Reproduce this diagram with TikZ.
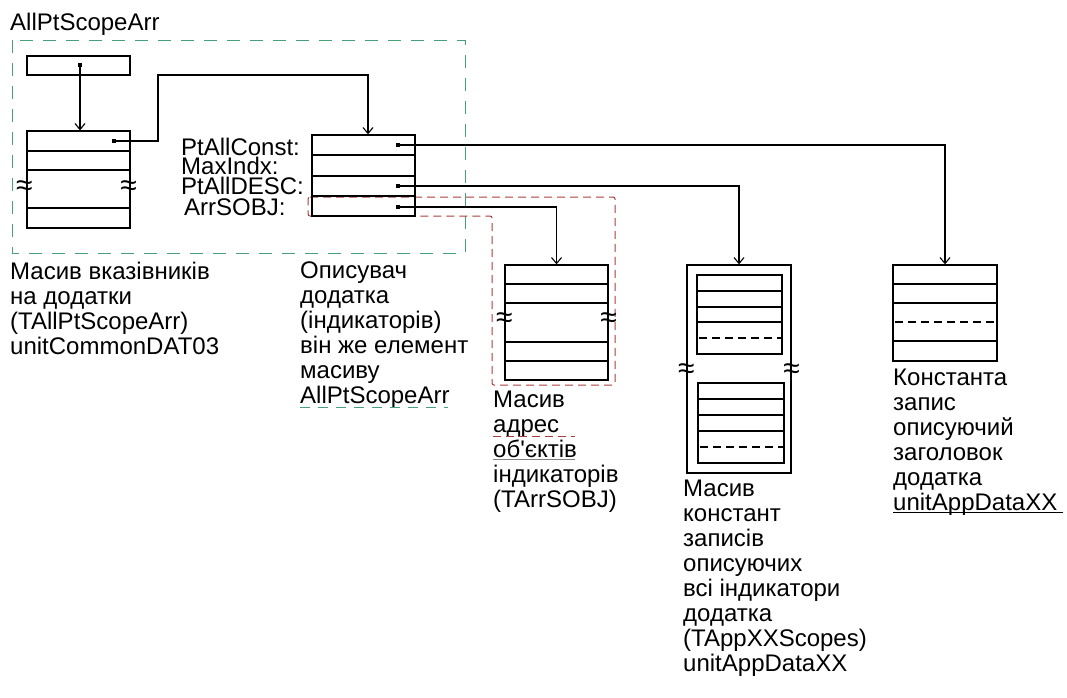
\documentclass[tikz,border=0pt]{standalone}
\usepackage{fontspec}
\setmainfont{Liberation Sans}
\usetikzlibrary{arrows.meta, positioning}
\usepackage{xcolor}
\definecolor{scopegreen}{RGB}{70,160,120}
\definecolor{sobjred}{RGB}{170,60,60}
\tikzstyle{memblock}  = [rectangle, draw, line width=1.3pt, inner sep=0pt, minimum width=103pt]
\tikzstyle{rowline}   = [line width=1.3pt]
\tikzstyle{rowdash}   = [line width=1.3pt, dash pattern=on 8pt off 5pt]
\tikzstyle{ptdot}     = [rectangle, fill, minimum size=4pt, inner sep=0pt]
\tikzstyle{arrow}     = [line width=1.1pt, -{Straight Barb[length=6pt,width=10pt]}]
\tikzstyle{caption}   = [anchor=north west, align=left, inner sep=0pt, font=\fontsize{24}{25}\selectfont]
\tikzstyle{fieldname} = [anchor=base west, inner sep=0pt, text height=17pt, text depth=1pt, font=\fontsize{24}{24}\selectfont]
\tikzstyle{wave}      = [inner sep=0pt, font=\fontsize{30}{30}\selectfont]
\tikzstyle{greendash} = [draw=scopegreen, line width=1pt, dash pattern=on 13pt off 10pt]
\tikzstyle{reddash}   = [draw=sobjred, line width=1pt, dash pattern=on 8pt off 5pt]

\begin{document}
\begin{tikzpicture}[x=1pt, y=-1pt]
\useasboundingbox (0,0) rectangle (1067,697);

% dashed groups
\node (scopetitle) [fieldname] at (10,30) {AllPtScopeArr};
\draw[greendash] (12,40) rectangle (465,253);
\draw[reddash, rounded corners=2pt] (308,197) -- (615,197) -- (615,385) -- (492,385) -- (492,216) -- (308,216) -- cycle;

% pointer and array of pointers
\node (ptcell) [memblock, minimum height=19pt] at (78.5,65.5) {};
\node (ptrarr) [memblock, minimum height=97pt] at (78.5,179.5) {};
\foreach \ry in {151,170,208}
    \draw[rowline] (ptrarr.west |- 0,\ry) -- (ptrarr.east |- 0,\ry);
\node[wave] at ([xshift=-2pt]ptrarr.west |- 0,188) {≈};
\node[wave] at ([xshift=-2pt]ptrarr.east |- 0,188) {≈};

% descriptor
\node (descbox) [memblock, minimum height=81pt] at (363.5,175.5) {};
\foreach \ry in {155,176,196}
    \draw[rowline] (descbox.west |- 0,\ry) -- (descbox.east |- 0,\ry);
\node (fconst) [fieldname] at (181,155) {PtAllConst:};
\node (fmax)   [fieldname] at (181,174) {MaxIndx:};
\node (fdesc)  [fieldname] at (181,194) {PtAllDESC:};
\node (fsobj)  [fieldname] at (184,215) {ArrSOBJ:};

% array of object addresses
\node (sobjarr) [memblock, minimum height=115pt] at (556.5,322.5) {};
\foreach \ry in {284,303,342,361}
    \draw[rowline] (sobjarr.west |- 0,\ry) -- (sobjarr.east |- 0,\ry);
\node[wave] at (sobjarr.west |- 0,320) {≈};
\node[wave] at (sobjarr.east |- 0,320) {≈};

% array of scope records
\node (scopesarr) [memblock, minimum width=104pt, minimum height=208pt] at (739,369) {};
\node (scopesa) [memblock, minimum width=85pt, minimum height=79pt] at (739.5,314.5) {};
\foreach \ry in {291,307,322}
    \draw[rowline] (scopesa.west |- 0,\ry) -- (scopesa.east |- 0,\ry);
\draw[rowdash] ([xshift=3pt]scopesa.west |- 0,338) -- ([xshift=-2pt]scopesa.east |- 0,338);
\node (scopesb) [memblock, minimum width=86pt, minimum height=80pt] at (741,423) {};
\foreach \ry in {399,415,431}
    \draw[rowline] (scopesb.west |- 0,\ry) -- (scopesb.east |- 0,\ry);
\draw[rowdash] ([xshift=3pt]scopesb.west |- 0,447) -- ([xshift=-2pt]scopesb.east |- 0,447);
\node[wave] at (scopesarr.west |- 0,371) {≈};
\node[wave] at (scopesarr.east |- 0,371) {≈};

% constant record
\node (constrec) [memblock, minimum width=104pt, minimum height=96pt] at (945,313) {};
\foreach \ry in {284,303,341}
    \draw[rowline] (constrec.west |- 0,\ry) -- (constrec.east |- 0,\ry);
\draw[rowdash] ([xshift=3pt]constrec.west |- 0,322) -- ([xshift=-2pt]constrec.east |- 0,322);

% pointers
\node (ptdot)    [ptdot] at (80,65) {};
\node (arrdot)   [ptdot] at (114,141) {};
\node (constdot) [ptdot] at (398,145) {};
\node (descdot)  [ptdot] at (398,186) {};
\node (sobjdot)  [ptdot] at (398,207) {};
\draw[arrow] (ptdot.center) -- (ptdot.center |- ptrarr.north);
\draw[arrow] (arrdot.center) -| (158,75) -| ([xshift=4.5pt]descbox.north);
\draw[arrow] (constdot.center) -| (constrec.north);
\draw[arrow] (descdot.center) -| (scopesarr.north);
\draw[arrow] (sobjdot.center) -| (sobjarr.north);

% captions
\node (ptrcap)   [caption] at (10,262) {Масив вказівників\\на додатки\\(TAllPtScopeArr)\\unitCommonDAT03};
\node (desccap)  [caption] at (300,262) {Описувач\\додатка\\(індикаторів)\\він же елемент\\масиву\\AllPtScopeArr};
\draw[greendash, dash pattern=on 10pt off 8pt] ([yshift=2pt]desccap.south west) -- ++(148,0);
\node (sobjcap)  [caption] at (493,391) {Масив\\адрес\\об\textquotesingle єктів\\індикаторів\\(TArrSOBJ)};
\draw[reddash] (493,436) -- (575,436);
\draw[line width=0.6pt, gray] (493,459) -- (575,459);
\node (scopescap) [caption] at (683,480) {Масив\\констант\\записів\\описуючих\\всі індикатори\\додатка\\(TAppXXScopes)\\unitAppDataXX};
\node (constcap) [caption] at (893,369) {Константа\\запис\\описуючий\\заголовок\\додатка\\unitAppDataXX};
\draw[line width=1pt] ([yshift=3pt]constcap.south west) -- ++(170,0);
\end{tikzpicture}
\end{document}
